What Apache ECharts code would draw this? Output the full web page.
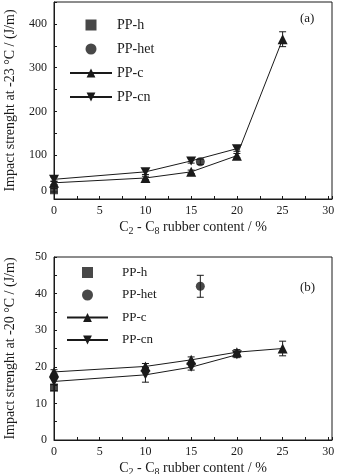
<!DOCTYPE html>
<html>
<head>
<meta charset="utf-8">
<script src="https://cdn.jsdelivr.net/npm/echarts@6/dist/echarts.min.js"></script>
<style>
html,body{margin:0;padding:0;background:#fff;}
#main{width:337px;height:474px;}
</style>
</head>
<body>
<div id="main"></div>
<script>
// x positions (rubber content, %)
var xPts=[0,10,15,20,25];
var xPtsCn=[0,10,15,20];
var xH=[0];
var xHet=[16];

// (a) impact strength at -23 C
var aC=[37,48,62,99,365];
var aCErr=[4,4,4,5,17];
var aCn=[45,62,87,115];
var aCnErr=[5,6,5,6];
var aH=[20];
var aHErr=[4];
var aHet=[85];
var aHetErr=[6];

// (b) impact strength at -20 C
var bC=[18.6,20.1,21.9,24.0,25.0];
var bCErr=[0.6,0.8,0.8,0.7,2];
var bCn=[16.0,17.8,19.9,23.3];
var bCnErr=[0.8,2,0.8,0.8];
var bH=[14.3];
var bHErr=[0.8];
var bHet=[42];
var bHetErr=[3];

var legendNames=['PP-h','PP-het','PP-c','PP-cn'];
var xName='C{s|2} - C{s|8} rubber content / %';
var yNameA='Impact strenght at -23 °C / (J/m)';
var yNameB='Impact strenght at -20 °C / (J/m)';

var FONT='Liberation Serif';
var INK='#1a1a1a';
var downTri='path://M0,0L20,0L10,17.3Z';
var square='path://M0,0L10,0L10,10L0,10Z';

function pairs(xs,ys){
    var arr=[];
    for(var i=0;i<ys.length;i++){ arr.push([xs[i],ys[i]]); }
    return arr;
}
function errs(xs,ys,es){
    var arr=[];
    for(var i=0;i<ys.length;i++){ arr.push([xs[i],ys[i]-es[i],ys[i]+es[i]]); }
    return arr;
}
function errRender(params,api){
    var x=api.value(0);
    var p1=api.coord([x,api.value(2)]);
    var p2=api.coord([x,api.value(1)]);
    var w=3.5;
    var st={stroke:INK,lineWidth:1};
    return {type:'group',children:[
        {type:'line',shape:{x1:p1[0],y1:p1[1],x2:p2[0],y2:p2[1]},style:st},
        {type:'line',shape:{x1:p1[0]-w,y1:p1[1],x2:p1[0]+w,y2:p1[1]},style:st},
        {type:'line',shape:{x1:p2[0]-w,y1:p2[1],x2:p2[0]+w,y2:p2[1]},style:st}
    ]};
}

function xAxisOf(g){
    return {
        gridIndex:g,type:'value',min:0,max:30.4,interval:2.5,
        name:xName,nameLocation:'middle',nameGap:20,
        nameTextStyle:{fontFamily:FONT,fontSize:14,color:INK,
            rich:{s:{fontFamily:FONT,fontSize:10,color:INK,padding:[7,0,0,0]}}},
        axisLine:{show:true,lineStyle:{color:INK,width:1}},
        axisTick:{show:true,inside:true,length:3,lineStyle:{color:INK}},
        axisLabel:{fontFamily:FONT,fontSize:12,color:INK,margin:6,
            formatter:function(v){return (Math.abs(v%5)<1e-6)?String(v):'';}},
        splitLine:{show:false}
    };
}
function yAxisOf(g,max,step,major,name,shiftZero){
    return {
        gridIndex:g,type:'value',min:0,max:max,interval:step,
        name:name,nameLocation:'middle',nameGap:37,
        nameTextStyle:{fontFamily:FONT,fontSize:14,color:INK},
        axisLine:{show:true,lineStyle:{color:INK,width:1}},
        axisTick:{show:true,inside:true,length:3,lineStyle:{color:INK}},
        axisLabel:{fontFamily:FONT,fontSize:12,color:INK,margin:7,
            formatter:function(v){
                if(Math.abs(v%major)>1e-6) return '';
                if(v===0&&shiftZero) return '{z|0}';
                return String(v);
            },
            rich:{z:{fontFamily:FONT,fontSize:12,color:INK,padding:[0,0,16,0]}}},
        splitLine:{show:false}
    };
}

function lineSeries(name,g,xs,ys,sym){
    return {name:name,type:'line',xAxisIndex:g,yAxisIndex:g,data:pairs(xs,ys),
        symbol:sym,symbolSize:sym==='triangle'?10:[10,9],
        lineStyle:{color:INK,width:1},itemStyle:{color:INK},z:3};
}
function dotSeries(name,g,xs,ys,sym){
    return {name:name,type:'scatter',xAxisIndex:g,yAxisIndex:g,data:pairs(xs,ys),
        symbol:sym,symbolSize:sym===square?8:9,itemStyle:{color:INK},z:3};
}
function errSeries(g,xs,ys,es){
    return {type:'custom',xAxisIndex:g,yAxisIndex:g,data:errs(xs,ys,es),
        renderItem:errRender,encode:{x:0,y:[1,2]},z:2,silent:true};
}

var myChart=echarts.init(document.getElementById('main'));
var option={
    animation:false,
    backgroundColor:'#fff',
    textStyle:{fontFamily:FONT},
    grid:[
        {left:54,right:5,top:2,height:197,show:true,borderColor:INK,borderWidth:1,
         backgroundColor:'transparent',containLabel:false,outerBoundsMode:'none'},
        {left:54,right:5,top:257,height:183,show:true,borderColor:INK,borderWidth:1,
         backgroundColor:'transparent',containLabel:false,outerBoundsMode:'none'}
    ],
    xAxis:[xAxisOf(0),xAxisOf(1)],
    yAxis:[
        yAxisOf(0,450,50,100,yNameA,true),
        yAxisOf(1,50,5,10,yNameB,false)
    ],
    legend:[
        {data:legendNames,orient:'vertical',left:64,top:13,itemWidth:42,itemHeight:11,itemGap:10,
         textStyle:{fontFamily:FONT,fontSize:14,color:INK,lineHeight:14},selectedMode:false},
        {data:legendNames,orient:'vertical',left:61,top:261,itemWidth:41,itemHeight:11,itemGap:9.5,
         textStyle:{fontFamily:FONT,fontSize:13,color:INK,lineHeight:13,padding:[0,0,0,9]},selectedMode:false}
    ],
    graphic:[
        {type:'text',left:300,top:12,style:{text:'(a)',font:'13px "Liberation Serif"',fill:INK}},
        {type:'text',left:300,top:281,style:{text:'(b)',font:'13px "Liberation Serif"',fill:INK}}
    ],
    series:[
        errSeries(0,xPts,aC,aCErr),
        errSeries(0,xPtsCn,aCn,aCnErr),
        errSeries(0,xH,aH,aHErr),
        errSeries(0,xHet,aHet,aHetErr),
        dotSeries('PP-h',0,xH,aH,square),
        dotSeries('PP-het',0,xHet,aHet,'circle'),
        lineSeries('PP-c',0,xPts,aC,'triangle'),
        lineSeries('PP-cn',0,xPtsCn,aCn,downTri),
        errSeries(1,xPts,bC,bCErr),
        errSeries(1,xPtsCn,bCn,bCnErr),
        errSeries(1,xH,bH,bHErr),
        errSeries(1,xHet,bHet,bHetErr),
        dotSeries('PP-h',1,xH,bH,square),
        dotSeries('PP-het',1,xHet,bHet,'circle'),
        lineSeries('PP-c',1,xPts,bC,'triangle'),
        lineSeries('PP-cn',1,xPtsCn,bCn,downTri)
    ]
};
myChart.setOption(option);
</script>
</body>
</html>
